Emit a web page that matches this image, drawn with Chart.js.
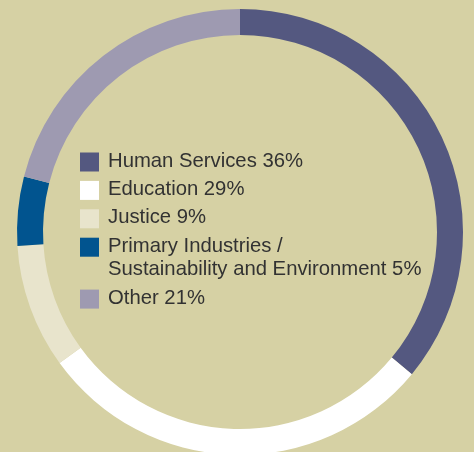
<!DOCTYPE html>
<html>
<head>
<meta charset="utf-8">
<script src="https://cdn.jsdelivr.net/npm/chart.js@4/dist/chart.umd.min.js"></script>
<style>
  html, body { margin: 0; padding: 0; overflow: hidden; background: #d6d1a4; width: 474px; height: 452px; }
  #wrap { position: relative; width: 474px; height: 452px; overflow: hidden; }
  canvas { display: block; }
</style>
</head>
<body>
<div id="wrap"><canvas id="c" width="474" height="460"></canvas></div>
<script>
// Data (clockwise from 12 o'clock)
const categories = ["Human Services", "Education", "Justice", "Primary Industries / Sustainability and Environment", "Other"];
const values = [36, 29, 9, 5, 21];
const colors = ["#545880", "#ffffff", "#e8e4cc", "#01548f", "#9e9ab1"];
// Legend text lines as printed in the reference
const legendLines = [
  ["Human Services 36%"],
  ["Education 29%"],
  ["Justice 9%"],
  ["Primary Industries /", "Sustainability and Environment 5%"],
  ["Other 21%"]
];

const insideLegend = {
  id: 'insideLegend',
  afterDraw(chart) {
    const ctx = chart.ctx;
    ctx.save();
    ctx.font = '20.3px "Liberation Sans", Arial, sans-serif';
    ctx.textBaseline = 'middle';
    ctx.textAlign = 'left';
    let y = 152.5;
    const box = 19;
    chart.data.datasets[0].backgroundColor.forEach((col, i) => {
      ctx.fillStyle = col;
      ctx.fillRect(80, y, box, box);
      ctx.fillStyle = '#323232';
      legendLines[i].forEach((line, k) => {
        ctx.fillText(line, 108, y + 8.5 + k * 23.5);
      });
      y += 28.4 + (legendLines[i].length - 1) * 23.5;
    });
    ctx.restore();
  }
};

new Chart(document.getElementById('c'), {
  type: 'doughnut',
  data: {
    labels: categories,
    datasets: [{
      data: values,
      backgroundColor: colors,
      borderWidth: 0,
      hoverOffset: 0,
      offset: 0
    }]
  },
  options: {
    responsive: false,
    animation: false,
    radius: 223,
    cutout: 197,
    layout: { padding: { left: 17, right: 11, top: 9, bottom: 5 } },
    plugins: {
      legend: { display: false },
      tooltip: { enabled: false }
    }
  },
  plugins: [insideLegend]
});
</script>
</body>
</html>
